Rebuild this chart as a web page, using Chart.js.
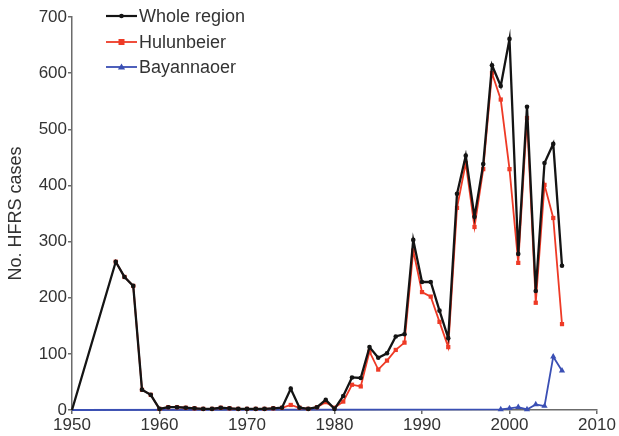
<!DOCTYPE html>
<html>
<head>
<meta charset="utf-8">
<script src="https://cdn.jsdelivr.net/npm/chart.js@4"></script>
<style>
html,body{margin:0;padding:0;background:#fff;}
#wrap{width:619px;height:436px;position:relative;}
</style>
</head>
<body>
<div id="wrap"><canvas id="c" width="619" height="436"></canvas></div>
<script>
// ---- data ----
const wholeYears = [1950,1955,1956,1957,1958,1959,1960,1961,1962,1963,1964,1965,1966,1967,1968,1969,1970,1971,1972,1973,1974,1975,1976,1977,1978,1979,1980,1981,1982,1983,1984,1985,1986,1987,1988,1989,1990,1991,1992,1993,1994,1995,1996,1997,1998,1999,2000,2001,2002,2003,2004,2005,2006];
const wholeValues = [0,264,237,221,36,27,2,5,5,4,3,2,2,4,3,2,2,2,2,3,4,38,4,2,5,18,2,25,58,57,112,93,101,131,135,303,228,228,177,128,385,453,344,438,614,577,661,278,540,212,440,474,257];

const huluYears = [1955,1956,1957,1958,1959,1960,1961,1962,1963,1964,1965,1966,1967,1968,1969,1970,1971,1972,1973,1974,1975,1976,1977,1978,1979,1980,1981,1982,1983,1984,1985,1986,1987,1988,1989,1990,1991,1992,1993,1994,1995,1996,1997,1998,1999,2000,2001,2002,2003,2004,2005,2006];
const huluValues = [264,237,221,36,27,2,5,5,4,3,2,2,4,3,2,2,2,2,3,4,9,4,2,5,14,4,15,45,42,104,72,88,107,120,284,210,202,157,112,360,440,326,429,600,553,429,262,520,191,401,342,153];

const bayYears = [1950,1999,2000,2001,2002,2003,2004,2005,2006];
const bayValues = [0,1,3,5,1,10,7,95,70];

const seriesNames = ['Whole region','Hulunbeier','Bayannaoer'];
const xTickMin = 1950, xTickMax = 2010, xTickStep = 10;
const yTickMin = 0, yTickMax = 700, yTickStep = 100;

// ---- build ----
const toPts = (xs, ys) => xs.map((x, i) => ({x: x, y: ys[i]}));
const BLACK = '#141414', RED = '#ee3a26', BLUE = '#3a4fb4';
const FONT = 'Liberation Sans, Arial, sans-serif';

const legendPlugin = {
  id: 'lineLegend',
  afterDraw(chart) {
    const ctx = chart.ctx;
    const items = [
      {label: seriesNames[0], color: BLACK, style: 'circle', r: 2.3, w: 2.2},
      {label: seriesNames[1], color: RED, style: 'rect', r: 3, w: 1.8},
      {label: seriesNames[2], color: BLUE, style: 'triangle', r: 3.6, w: 1.8}
    ];
    const x0 = 106, x1 = 137, ys = [16, 42, 67];
    ctx.save();
    items.forEach((it, i) => {
      const y = ys[i];
      ctx.strokeStyle = it.color; ctx.lineWidth = it.w;
      ctx.beginPath(); ctx.moveTo(x0, y); ctx.lineTo(x1, y); ctx.stroke();
      ctx.fillStyle = it.color;
      ctx.beginPath();
      const cx = (x0 + x1) / 2;
      if (it.style === 'circle') { ctx.arc(cx, y, it.r, 0, Math.PI*2); }
      else if (it.style === 'rect') { ctx.rect(cx - it.r, y - it.r, it.r*2, it.r*2); }
      else { ctx.moveTo(cx, y-it.r); ctx.lineTo(cx+it.r, y+it.r*0.7); ctx.lineTo(cx-it.r, y+it.r*0.7); ctx.closePath(); }
      ctx.fill();
      ctx.fillStyle = '#333';
      ctx.font = '18px ' + FONT;
      ctx.textBaseline = 'middle';
      ctx.textAlign = 'left';
      ctx.fillText(it.label, x1 + 2, y + 1);
    });
    ctx.restore();
  }
};

new Chart(document.getElementById('c'), {
  type: 'line',
  data: {
    datasets: [
      {
        label: seriesNames[0],
        data: toPts(wholeYears, wholeValues),
        borderColor: BLACK, backgroundColor: BLACK,
        borderWidth: 2.3, pointStyle: 'circle',
        pointRadius: ctx => ctx.dataIndex === 0 ? 0 : 2.3,
        pointBorderWidth: 0, tension: 0, clip: false
      },
      {
        label: seriesNames[1],
        data: toPts(huluYears, huluValues),
        borderColor: RED, backgroundColor: RED,
        borderWidth: 1.8, pointStyle: 'rect',
        pointRadius: 3, pointBorderWidth: 0, tension: 0, clip: false
      },
      {
        label: seriesNames[2],
        data: toPts(bayYears, bayValues),
        borderColor: BLUE, backgroundColor: BLUE,
        borderWidth: 1.8, pointStyle: 'triangle',
        pointRadius: ctx => ctx.dataIndex === 0 ? 0 : 3.6,
        pointBorderWidth: 0, tension: 0, clip: false
      }
    ]
  },
  options: {
    responsive: false,
    animation: false,
    events: [],
    layout: {padding: {top: 17, right: 22, left: 0, bottom: 0}},
    plugins: {legend: {display: false}, tooltip: {enabled: false}},
    scales: {
      x: {
        type: 'linear', min: xTickMin, max: xTickMax,
        border: {color: '#6b6b6b', width: 1.5},
        grid: {drawOnChartArea: false, drawTicks: true, tickLength: 4, color: '#6b6b6b', lineWidth: 1.5},
        ticks: {stepSize: xTickStep, color: '#333', font: {family: FONT, size: 17}, padding: 1, maxRotation: 0,
                autoSkip: false, callback: v => String(v)},
        afterFit: s => { s.height = 26; }
      },
      y: {
        min: yTickMin, max: yTickMax,
        border: {color: '#6b6b6b', width: 1.5},
        grid: {drawOnChartArea: false, drawTicks: true, tickLength: 4, color: '#6b6b6b', lineWidth: 1.5},
        ticks: {stepSize: yTickStep, color: '#333', font: {family: FONT, size: 17}, padding: 1,
                callback: v => String(v)},
        title: {display: true, text: 'No. HFRS cases', color: '#333', font: {family: FONT, size: 18}, padding: {top: 5, bottom: 0}},
        afterFit: s => { s.width = 72; }
      }
    }
  },
  plugins: [legendPlugin]
});
</script>
</body>
</html>
